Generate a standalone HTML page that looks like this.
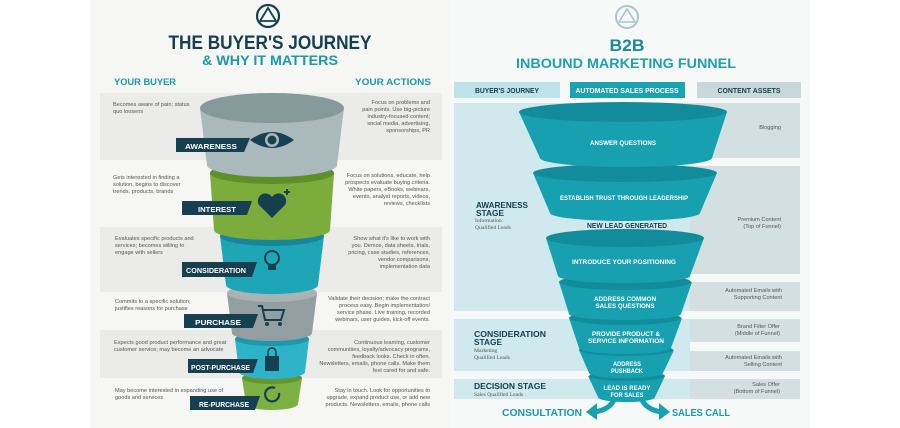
<!DOCTYPE html>
<html><head><meta charset="utf-8"><style>
html,body{margin:0;padding:0;background:#fff;width:900px;height:428px;overflow:hidden}
svg{display:block}
text{font-family:"Liberation Sans",sans-serif}
.h{font-weight:bold}
.s{font-family:"Liberation Serif",serif;font-size:5.6px;fill:#555}
.lab{font-weight:bold;font-size:7.5px;fill:#fff}
.fw{font-weight:bold;font-size:6.6px;fill:#fff;text-anchor:middle}
</style></head><body>
<svg width="900" height="428" viewBox="0 0 900 428" xmlns="http://www.w3.org/2000/svg">
<rect x="90" y="0" width="360" height="428" fill="#f6f6f4"/>
<rect x="450" y="0" width="360" height="428" fill="#f7f8f8"/>
<!-- LEFT PANEL -->
<circle cx="268" cy="16" r="11" fill="none" stroke="#16404f" stroke-width="2.2"/>
<path d="M268 8 L276 21 L260 21 Z" fill="none" stroke="#16404f" stroke-width="1.8"/>
<text x="270" y="49" class="h" font-size="19" fill="#16404f" text-anchor="middle" textLength="203" lengthAdjust="spacingAndGlyphs">THE BUYER'S JOURNEY</text>
<text x="270" y="65" class="h" font-size="14" fill="#1a9aa8" text-anchor="middle" textLength="136" lengthAdjust="spacingAndGlyphs">&amp; WHY IT MATTERS</text>
<text x="114" y="85" class="h" font-size="9.5" fill="#1a9aa8" textLength="62" lengthAdjust="spacingAndGlyphs">YOUR BUYER</text>
<text x="431" y="85" class="h" font-size="9.5" fill="#1a9aa8" text-anchor="end" textLength="76" lengthAdjust="spacingAndGlyphs">YOUR ACTIONS</text>
<rect x="100" y="93" width="342" height="67" fill="#ebebea"/>
<rect x="100" y="227" width="342" height="65" fill="#ebebea"/>
<rect x="100" y="330" width="342" height="48" fill="#ebebea"/>
<!-- cylinders bottom-up -->
<path d="M242 378 L246 404 A26 6 0 0 0 298 404 L302 378 Z" fill="#7db043"/><ellipse cx="272" cy="378" rx="30" ry="6" fill="#64952f"/>
<path d="M235 339 L239 372 A33 7 0 0 0 305 372 L309 339 Z" fill="#2eb4c8"/><ellipse cx="272" cy="339" rx="37" ry="7" fill="#1f97aa"/>
<path d="M227 293 L232 333 A40 8 0 0 0 312 333 L317 293 Z" fill="#939ea0"/><ellipse cx="272" cy="293" rx="45" ry="9" fill="#a9b3b4"/>
<path d="M220 236 L226 285 A46 9 0 0 0 318 285 L324 236 Z" fill="#1fa6b6"/><ellipse cx="272" cy="236" rx="52" ry="10" fill="#15879a"/>
<path d="M210 173 L214 230 A58 10 0 0 0 330 230 L334 173 Z" fill="#7cad3c"/><ellipse cx="272" cy="173" rx="62" ry="11" fill="#5f8f2a"/>
<path d="M200 108 L207 165 A65 12 0 0 0 337 165 L344 108 Z" fill="#aab9bb"/><ellipse cx="272" cy="108" rx="72" ry="15" fill="#869a9c"/>
<!-- icons -->
<path d="M250 140 Q272 124 294 140 Q272 156 250 140 Z" fill="#16404f"/><circle cx="272" cy="140" r="7" fill="#aab9bb"/><circle cx="272" cy="140" r="4.5" fill="#16404f"/>
<path d="M272 218 L259 205 A6.5 6.5 0 0 1 272 197 A6.5 6.5 0 0 1 285 205 Z" fill="#16404f"/><path d="M284 192 h6 M287 189 v6" stroke="#16404f" stroke-width="2"/>
<circle cx="272" cy="258" r="7" fill="none" stroke="#16404f" stroke-width="2"/><rect x="268" y="265" width="8" height="5" fill="#16404f"/>
<path d="M258 306 h4 l3 14 h16 l3 -10 h-21" fill="none" stroke="#16404f" stroke-width="2"/><circle cx="267" cy="324" r="2" fill="#16404f"/><circle cx="280" cy="324" r="2" fill="#16404f"/>
<rect x="265" y="356" width="14" height="15" fill="#16404f"/><path d="M268 356 v-4 a4 4 0 0 1 8 0 v4" fill="none" stroke="#16404f" stroke-width="1.5"/>
<path d="M279 393 A7 7 0 1 1 275 388" fill="none" stroke="#16404f" stroke-width="2.2"/>
<!-- labels -->
<g fill="#16404f">
<path d="M176 138 h68 l6 -0 l-6 14 h-68 Z"/><path d="M182 201 h65 l5 0 l-5 14 h-65 Z"/>
<path d="M182 262 h70 l5 0 l-5 15 h-70 Z"/><path d="M184 314 h69 l5 0 l-5 14 h-69 Z"/>
<path d="M188 359 h65 l5 0 l-5 14 h-65 Z"/><path d="M190 396 h65 l5 0 l-5 14 h-65 Z"/>
</g>
<text x="185" y="149" class="lab" textLength="52" lengthAdjust="spacingAndGlyphs">AWARENESS</text>
<text x="198" y="212" class="lab" textLength="38" lengthAdjust="spacingAndGlyphs">INTEREST</text>
<text x="186" y="273" class="lab" textLength="60" lengthAdjust="spacingAndGlyphs">CONSIDERATION</text>
<text x="195" y="325" class="lab" textLength="46" lengthAdjust="spacingAndGlyphs">PURCHASE</text>
<text x="191" y="370" class="lab" textLength="59" lengthAdjust="spacingAndGlyphs">POST-PURCHASE</text>
<text x="199" y="407" class="lab" textLength="50" lengthAdjust="spacingAndGlyphs">RE-PURCHASE</text>
<!-- left texts -->
<g class="s">
<text x="113" y="106">Becomes aware of pain; status</text><text x="113" y="113">quo loosens</text>
<text x="113" y="179">Gets interested in finding a</text><text x="113" y="186">solution, begins to discover</text><text x="113" y="193">trends, products, brands</text>
<text x="115" y="240">Evaluates specific products and</text><text x="115" y="247">services; becomes willing to</text><text x="115" y="254">engage with sellers</text>
<text x="115" y="303">Commits to a specific solution;</text><text x="115" y="310">justifies reasons for purchase</text>
<text x="114" y="344">Expects good product performance and great</text><text x="114" y="351">customer service; may become an advocate</text>
<text x="115" y="392">May become interested in expanding use of</text><text x="115" y="399">goods and services</text>
</g>
<g class="s" text-anchor="end">
<text x="430" y="104">Focus on problems and</text><text x="430" y="111">pain points. Use big-picture</text><text x="430" y="118">industry-focused content;</text><text x="430" y="125">social media, advertising,</text><text x="430" y="132">sponsorships, PR</text>
<text x="430" y="177">Focus on solutions, educate, help</text><text x="430" y="184">prospects evaluate buying criteria.</text><text x="430" y="191">White papers, eBooks, webinars,</text><text x="430" y="198">events, analyst reports, videos,</text><text x="430" y="205">reviews, checklists</text>
<text x="430" y="240">Show what it's like to work with</text><text x="430" y="247">you. Demos, data sheets, trials,</text><text x="430" y="254">pricing, case studies, references,</text><text x="430" y="261">vendor comparisons,</text><text x="430" y="268">implementation data</text>
<text x="430" y="300">Validate their decision; make the contract</text><text x="430" y="307">process easy. Begin implementation/</text><text x="430" y="314">service phase. Live training, recorded</text><text x="430" y="321">webinars, user guides, kick-off events.</text>
<text x="430" y="344">Continuous learning, customer</text><text x="430" y="351">communities, loyalty/advocacy programs,</text><text x="430" y="358">feedback looks. Check in often.</text><text x="430" y="365">Newsletters, emails, phone calls. Make them</text><text x="430" y="372">feel cared for and safe.</text>
<text x="430" y="392">Stay in touch. Look for opportunities to</text><text x="430" y="399">upgrade, expand product use, or add new</text><text x="430" y="406">products. Newsletters, emails, phone calls</text>
</g>
<!-- RIGHT PANEL -->
<circle cx="627" cy="17" r="11" fill="none" stroke="#a9c7ca" stroke-width="2"/>
<path d="M627 9 L635 22 L619 22 Z" fill="none" stroke="#a9c7ca" stroke-width="1.6"/>
<text x="627" y="51" class="h" font-size="17" fill="#1a8a97" text-anchor="middle" textLength="35" lengthAdjust="spacingAndGlyphs">B2B</text>
<text x="626" y="68" class="h" font-size="14" fill="#20a0ad" text-anchor="middle" textLength="220" lengthAdjust="spacingAndGlyphs">INBOUND MARKETING FUNNEL</text>
<rect x="454" y="82" width="106" height="16" fill="#bfe3ea"/>
<rect x="570" y="82" width="115" height="16" fill="#1ba3b0"/>
<rect x="697" y="82" width="104" height="16" fill="#c9d9db"/>
<text x="507" y="93" class="h" font-size="7" fill="#16404f" text-anchor="middle" textLength="64" lengthAdjust="spacingAndGlyphs">BUYER'S JOURNEY</text>
<text x="627" y="93" class="h" font-size="7" fill="#fff" text-anchor="middle" textLength="103" lengthAdjust="spacingAndGlyphs">AUTOMATED SALES PROCESS</text>
<text x="749" y="93" class="h" font-size="7" fill="#16404f" text-anchor="middle" textLength="63" lengthAdjust="spacingAndGlyphs">CONTENT ASSETS</text>
<!-- bg bands -->
<rect x="454" y="103" width="346" height="208" fill="#cfe9ee"/>
<rect x="454" y="319" width="346" height="52" fill="#cfe9ee"/>
<rect x="454" y="379" width="346" height="20" fill="#cfe9ee"/>
<g fill="#d3e0e1">
<rect x="690" y="103" width="110" height="55"/><rect x="690" y="166" width="110" height="108"/><rect x="690" y="282" width="110" height="29"/><rect x="690" y="319" width="110" height="23"/><rect x="690" y="351" width="110" height="20"/><rect x="690" y="379" width="110" height="20"/>
</g>
<g fill="#f7f8f8"><rect x="690" y="158" width="110" height="8"/><rect x="690" y="274" width="110" height="8"/><rect x="690" y="342" width="110" height="9"/></g>
<!-- funnel -->
<path d="M588 376 L598 397 A28 5 0 0 0 655 397 L665 376 Z" fill="#17a1b0"/><ellipse cx="627" cy="376" rx="38" ry="5" fill="#128c9a"/>
<path d="M579 350 L589 373 A36 5 0 0 0 663 373 L674 350 Z" fill="#17a1b0"/><ellipse cx="626" cy="350" rx="47" ry="6" fill="#128c9a"/>
<path d="M569 318 L579 348 A46 6 0 0 0 671 348 L682 318 Z" fill="#17a1b0"/><ellipse cx="625" cy="318" rx="56" ry="7" fill="#128c9a"/>
<path d="M559 282 L569 314 A56 6 0 0 0 681 314 L692 282 Z" fill="#17a1b0"/><ellipse cx="625" cy="282" rx="66" ry="8" fill="#128c9a"/>
<path d="M546 238 L558 276 A66 7 0 0 0 690 276 L704 238 Z" fill="#17a1b0"/><ellipse cx="625" cy="238" rx="79" ry="9" fill="#128c9a"/>
<path d="M533 173 L550 213 A75 8 0 0 0 700 213 L717 173 Z" fill="#17a1b0"/><ellipse cx="625" cy="173" rx="92" ry="9" fill="#128c9a"/>
<path d="M519 112 L540 158 A86 9 0 0 0 712 158 L727 112 Z" fill="#17a1b0"/><ellipse cx="623" cy="112" rx="104" ry="10" fill="#128c9a"/>
<text x="623" y="145" class="fw" textLength="66" lengthAdjust="spacingAndGlyphs">ANSWER QUESTIONS</text>
<text x="624" y="200" class="fw" textLength="128" lengthAdjust="spacingAndGlyphs">ESTABLISH TRUST THROUGH LEADERSHIP</text>
<text x="627" y="228" class="h" font-size="7" fill="#16404f" text-anchor="middle" textLength="80" lengthAdjust="spacingAndGlyphs">NEW LEAD GENERATED</text>
<text x="624" y="264" class="fw" textLength="104" lengthAdjust="spacingAndGlyphs">INTRODUCE YOUR POSITIONING</text>
<text x="625" y="301" class="fw" textLength="62" lengthAdjust="spacingAndGlyphs">ADDRESS COMMON</text>
<text x="625" y="308" class="fw" textLength="59" lengthAdjust="spacingAndGlyphs">SALES QUESTIONS</text>
<text x="626" y="336" class="fw" textLength="68" lengthAdjust="spacingAndGlyphs">PROVIDE PRODUCT &amp;</text>
<text x="626" y="343" class="fw" textLength="76" lengthAdjust="spacingAndGlyphs">SERVICE INFORMATION</text>
<text x="627" y="366" class="fw" textLength="28" lengthAdjust="spacingAndGlyphs">ADDRESS</text>
<text x="627" y="373" class="fw" textLength="32" lengthAdjust="spacingAndGlyphs">PUSHBACK</text>
<text x="627" y="390" class="fw" textLength="47" lengthAdjust="spacingAndGlyphs">LEAD IS READY</text>
<text x="627" y="397" class="fw" textLength="33" lengthAdjust="spacingAndGlyphs">FOR SALES</text>
<!-- arrows -->
<path d="M615 398 Q610 410 594 412" fill="none" stroke="#17a1b0" stroke-width="5"/>
<path d="M597 403 L586 412 L597 420 Z" fill="#17a1b0"/>
<path d="M641 398 Q646 410 662 412" fill="none" stroke="#17a1b0" stroke-width="5"/>
<path d="M659 403 L670 412 L659 420 Z" fill="#17a1b0"/>
<text x="502" y="416" class="h" font-size="10" fill="#1a9aa8" textLength="80" lengthAdjust="spacingAndGlyphs">CONSULTATION</text>
<text x="672" y="416" class="h" font-size="10" fill="#1a9aa8" textLength="58" lengthAdjust="spacingAndGlyphs">SALES CALL</text>
<!-- stages -->
<text x="476" y="208" class="h" font-size="8.5" fill="#16404f" textLength="52" lengthAdjust="spacingAndGlyphs">AWARENESS</text>
<text x="476" y="216" class="h" font-size="8.5" fill="#16404f" textLength="28" lengthAdjust="spacingAndGlyphs">STAGE</text>
<text x="475" y="222" class="s">Information</text><text x="475" y="229" class="s">Qualified Leads</text>
<text x="474" y="337" class="h" font-size="8.5" fill="#16404f" textLength="72" lengthAdjust="spacingAndGlyphs">CONSIDERATION</text>
<text x="474" y="345" class="h" font-size="8.5" fill="#16404f" textLength="28" lengthAdjust="spacingAndGlyphs">STAGE</text>
<text x="474" y="352" class="s">Marketing</text><text x="474" y="359" class="s">Qualified Leads</text>
<text x="474" y="389" class="h" font-size="8.5" fill="#16404f" textLength="72" lengthAdjust="spacingAndGlyphs">DECISION STAGE</text>
<text x="474" y="396" class="s">Sales Qualified Leads</text>
<g class="s" text-anchor="end">
<text x="781" y="129">Blogging</text>
<text x="781" y="221">Premium Content</text><text x="781" y="228">(Top of Funnel)</text>
<text x="782" y="292">Automated Emails with</text><text x="782" y="299">Supporting Content</text>
<text x="780" y="328">Brand Filter Offer</text><text x="780" y="335">(Middle of Funnel)</text>
<text x="782" y="359">Automated Emails with</text><text x="782" y="366">Selling Content</text>
<text x="780" y="386">Sales Offer</text><text x="780" y="393">(Bottom of Funnel)</text>
</g>
</svg>
</body></html>
